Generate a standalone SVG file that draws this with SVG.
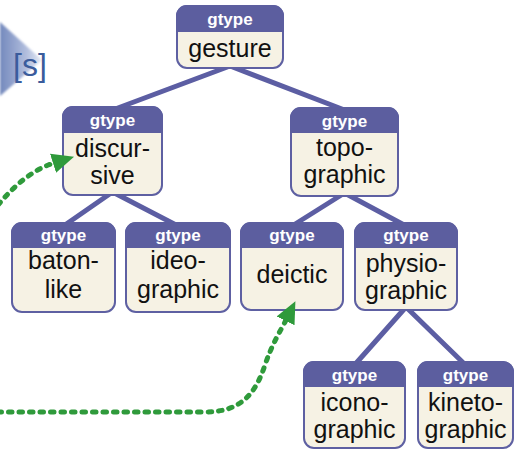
<svg xmlns="http://www.w3.org/2000/svg" width="515" height="452" viewBox="0 0 515 452">
  <defs>
    <linearGradient id="chevronFill" x1="0" y1="0" x2="1" y2="0">
      <stop offset="0" stop-color="#7489bd"/>
      <stop offset="0.6" stop-color="#aebbdc"/>
      <stop offset="1" stop-color="#e4e9f4"/>
    </linearGradient>
    <filter id="soft" x="-20%" y="-20%" width="140%" height="140%">
      <feGaussianBlur stdDeviation="1.2"/>
    </filter>
    <marker id="greenHead" viewBox="0 -11 24 22" markerWidth="24" markerHeight="22" refX="1" refY="0" orient="auto" markerUnits="userSpaceOnUse">
      <path d="M0,-10 L22,0 L0,10 Z" fill="#2f9a3b"/>
    </marker>
  </defs>
  <style>
    .box { fill: #f6f2e4; stroke: #5e60a2; stroke-width: 2; }
    .hdr { fill: #5c5e9f; }
    .tag { font-family: "Liberation Sans", Arial, sans-serif; font-weight: bold; font-size: 17px; fill: #ffffff; text-anchor: middle; }
    .lbl { font-family: "Liberation Sans", Arial, sans-serif; font-size: 25px; fill: #111111; text-anchor: middle; }
    .edge { stroke: #5c5ea3; stroke-width: 5; stroke-linecap: round; fill: none; }
    .link { stroke: #2f9a3b; stroke-width: 5; stroke-linecap: round; stroke-dasharray: 3.5 7; fill: none; }
  </style>

  <!-- corner badge -->
  <g id="badge">
    <polygon points="0,22 42,60 0,96" fill="url(#chevronFill)" filter="url(#soft)"/>
    <text x="13" y="76" font-family="'Liberation Sans', Arial, sans-serif" font-size="32" fill="#3a5c9c">[s]</text>
  </g>

  <!-- tree edges -->
  <g id="edges">
    <line class="edge" x1="230" y1="66" x2="112.5" y2="110"/>
    <line class="edge" x1="230" y1="66" x2="344.5" y2="110"/>
    <line class="edge" x1="112.5" y1="192" x2="63.5" y2="226"/>
    <line class="edge" x1="112.5" y1="192" x2="178" y2="226"/>
    <line class="edge" x1="344.5" y1="193" x2="292" y2="226"/>
    <line class="edge" x1="344.5" y1="193" x2="406" y2="226"/>
    <line class="edge" x1="406" y1="307" x2="354.5" y2="365"/>
    <line class="edge" x1="406" y1="307" x2="465.5" y2="365"/>
  </g>

  <!-- nodes -->
  <g id="gesture" transform="translate(177,6)">
    <rect class="box" x="0" y="0" width="106" height="62" rx="10"/>
    <path class="hdr" d="M-1,26 V10 A11,11 0 0 1 10,-1 H96 A11,11 0 0 1 107,10 V26 Z"/>
    <text class="tag" x="53" y="19">gtype</text>
    <text class="lbl" x="53" y="51">gesture</text>
  </g>

  <g id="discursive" transform="translate(63,107)">
    <rect class="box" x="0" y="0" width="99" height="88" rx="10"/>
    <path class="hdr" d="M-1,26 V10 A11,11 0 0 1 10,-1 H89 A11,11 0 0 1 100,10 V26 Z"/>
    <text class="tag" x="49.5" y="19">gtype</text>
    <text class="lbl" x="49.5" y="50">discur-</text>
    <text class="lbl" x="49.5" y="77">sive</text>
  </g>

  <g id="topographic" transform="translate(291,108)">
    <rect class="box" x="0" y="0" width="107" height="88" rx="10"/>
    <path class="hdr" d="M-1,25 V10 A11,11 0 0 1 10,-1 H97 A11,11 0 0 1 108,10 V25 Z"/>
    <text class="tag" x="53.5" y="19">gtype</text>
    <text class="lbl" x="53.5" y="48">topo-</text>
    <text class="lbl" x="53.5" y="75">graphic</text>
  </g>

  <g id="batonlike" transform="translate(12,223)">
    <rect class="box" x="0" y="0" width="103" height="89" rx="10"/>
    <path class="hdr" d="M-1,25 V10 A11,11 0 0 1 10,-1 H93 A11,11 0 0 1 104,10 V25 Z"/>
    <text class="tag" x="51.5" y="18">gtype</text>
    <text class="lbl" x="51.5" y="46">baton-</text>
    <text class="lbl" x="51.5" y="75">like</text>
  </g>

  <g id="ideographic" transform="translate(126,223)">
    <rect class="box" x="0" y="0" width="104" height="89" rx="10"/>
    <path class="hdr" d="M-1,25 V10 A11,11 0 0 1 10,-1 H94 A11,11 0 0 1 105,10 V25 Z"/>
    <text class="tag" x="52" y="18">gtype</text>
    <text class="lbl" x="52" y="46">ideo-</text>
    <text class="lbl" x="52" y="75">graphic</text>
  </g>

  <g id="deictic" transform="translate(241,223)">
    <rect class="box" x="0" y="0" width="102" height="87" rx="10"/>
    <path class="hdr" d="M-1,25 V10 A11,11 0 0 1 10,-1 H92 A11,11 0 0 1 103,10 V25 Z"/>
    <text class="tag" x="51" y="18">gtype</text>
    <text class="lbl" x="51" y="60">deictic</text>
  </g>

  <g id="physiographic" transform="translate(355,223)">
    <rect class="box" x="0" y="0" width="102" height="87" rx="10"/>
    <path class="hdr" d="M-1,25 V10 A11,11 0 0 1 10,-1 H92 A11,11 0 0 1 103,10 V25 Z"/>
    <text class="tag" x="51" y="18">gtype</text>
    <text class="lbl" x="51" y="49">physio-</text>
    <text class="lbl" x="51" y="76">graphic</text>
  </g>

  <g id="iconographic" transform="translate(304,362)">
    <rect class="box" x="0" y="0" width="101" height="86" rx="10"/>
    <path class="hdr" d="M-1,25 V10 A11,11 0 0 1 10,-1 H91 A11,11 0 0 1 102,10 V25 Z"/>
    <text class="tag" x="50.5" y="19">gtype</text>
    <text class="lbl" x="50.5" y="49">icono-</text>
    <text class="lbl" x="50.5" y="76">graphic</text>
  </g>

  <g id="kinetographic" transform="translate(418,362)">
    <rect class="box" x="0" y="0" width="95" height="86" rx="10"/>
    <path class="hdr" d="M-1,25 V10 A11,11 0 0 1 10,-1 H85 A11,11 0 0 1 96,10 V25 Z"/>
    <text class="tag" x="47.5" y="19">gtype</text>
    <text class="lbl" x="47.5" y="49">kineto-</text>
    <text class="lbl" x="47.5" y="76">graphic</text>
  </g>

  <!-- dotted green links, drawn over the boxes -->
  <g id="links">
    <path class="link" d="M-2,205 C15,185 32,170 54,163" marker-end="url(#greenHead)"/>
    <path class="link" d="M-2,412 H205 C240,412 255,395 265,365 C272,344 281,330 286,320" marker-end="url(#greenHead)"/>
  </g>
</svg>
